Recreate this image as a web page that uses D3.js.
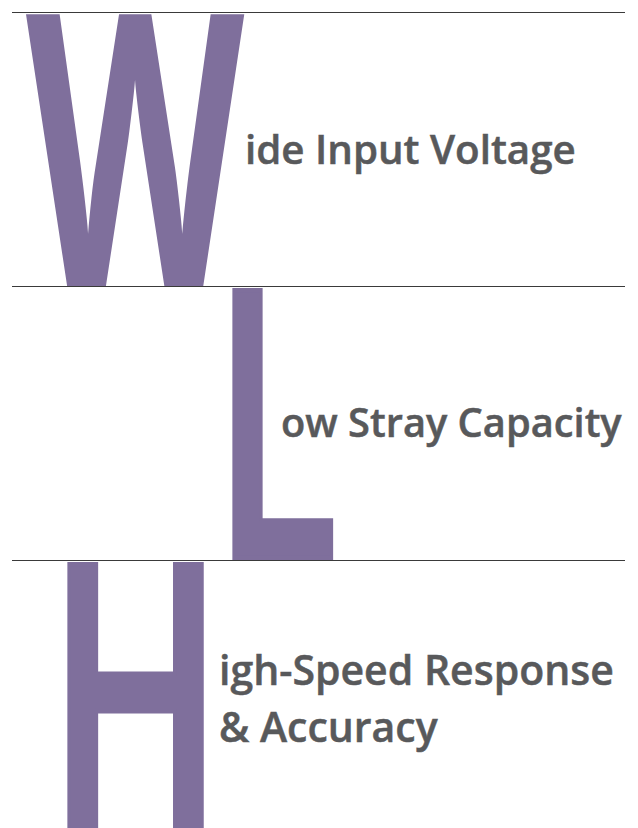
<!DOCTYPE html>
<html>
<head>
<meta charset="utf-8">
<script src="https://cdn.jsdelivr.net/npm/d3@7"></script>
<style>
  html, body { margin: 0; padding: 0; background: #fff; }
  svg { display: block; }
</style>
</head>
<body>
<div class="chart"></div>
<script>
// features shown, one row each
var initials = ['W', 'L', 'H'];
var captions = [
  ['ide Input Voltage'],
  ['ow Stray Capacity'],
  ['igh-Speed Response', '& Accuracy']
];

var width = 638,
    height = 828,
    rowTop = 12,
    rowH = 274,
    purple = '#7f6f9c',
    grey = '#58595b';

// where each big letter sits in its row, how heavy it is, and where its caption starts
var letterBox = [
  {x0: 26, x1: 245, weight: 700, extra: 0},
  {x0: 231, x1: 335, weight: 600, extra: 4},
  {x0: 66, x1: 205, weight: 600, extra: 4}
];
var captionPos = [
  {x: 245, y: 164, size: 40.3},
  {x: 281, y: 437, size: 39.8},
  {x: 219, y: 685, size: 41}
];
var captionLead = 57;

var svg = d3.select('.chart')
  .append('svg')
  .attr('width', width)
  .attr('height', height);

var y = d3.scaleBand()
  .domain(d3.range(initials.length))
  .range([rowTop, rowTop + rowH * initials.length])
  .paddingInner(0)
  .paddingOuter(0);

// measure glyph ink so the big letters can be stretched into their row
var ctx = document.createElement('canvas').getContext('2d');

var rows = svg.selectAll('g.row')
  .data(initials)
  .enter()
  .append('g')
  .attr('class', 'row');

rows.append('text')
  .attr('class', 'initial')
  .attr('font-family', "'Open Sans', sans-serif")
  .attr('font-weight', function(d, i) { return letterBox[i].weight; })
  .attr('font-size', 100)
  .attr('fill', purple)
  .attr('stroke', purple)
  .attr('stroke-width', function(d, i) { return letterBox[i].extra; })
  .attr('vector-effect', 'non-scaling-stroke')
  .attr('transform', function(d, i) {
    var b = letterBox[i];
    ctx.font = b.weight + " 100px 'Open Sans'";
    var m = ctx.measureText(d);
    var inkW = m.actualBoundingBoxLeft + m.actualBoundingBoxRight;
    var inkH = m.actualBoundingBoxAscent + m.actualBoundingBoxDescent;
    var pad = b.extra / 2;
    var sx = (b.x1 - b.x0 - 2 * pad) / inkW,
        sy = (y.bandwidth() - 2 * pad) / inkH;
    var tx = b.x0 + pad + sx * m.actualBoundingBoxLeft,
        ty = y(i) + pad + sy * m.actualBoundingBoxAscent;
    return 'translate(' + tx + ',' + ty + ') scale(' + sx + ',' + sy + ')';
  })
  .text(function(d) { return d; });

rows.append('text')
  .attr('class', 'caption')
  .attr('font-family', "'Open Sans', sans-serif")
  .attr('font-weight', 600)
  .attr('font-size', function(d, i) { return captionPos[i].size; })
  .attr('fill', grey)
  .attr('stroke', grey)
  .attr('stroke-width', 0.5)
  .attr('x', function(d, i) { return captionPos[i].x; })
  .attr('y', function(d, i) { return captionPos[i].y; })
  .selectAll('tspan')
  .data(function(d, i) { return captions[i].map(function(t) { return {t: t, i: i}; }); })
  .enter()
  .append('tspan')
  .attr('x', function(d) { return captionPos[d.i].x; })
  .attr('dy', function(d, k) { return k ? captionLead : 0; })
  .text(function(d) { return d.t; });

// row separators
svg.selectAll('line.sep')
  .data(d3.range(initials.length))
  .enter()
  .append('line')
  .attr('class', 'sep')
  .attr('x1', 12)
  .attr('x2', 625)
  .attr('y1', function(d) { return y(d) + 0.5; })
  .attr('y2', function(d) { return y(d) + 0.5; })
  .attr('stroke', '#3a3a3a')
  .attr('stroke-width', 1);
</script>
</body>
</html>
